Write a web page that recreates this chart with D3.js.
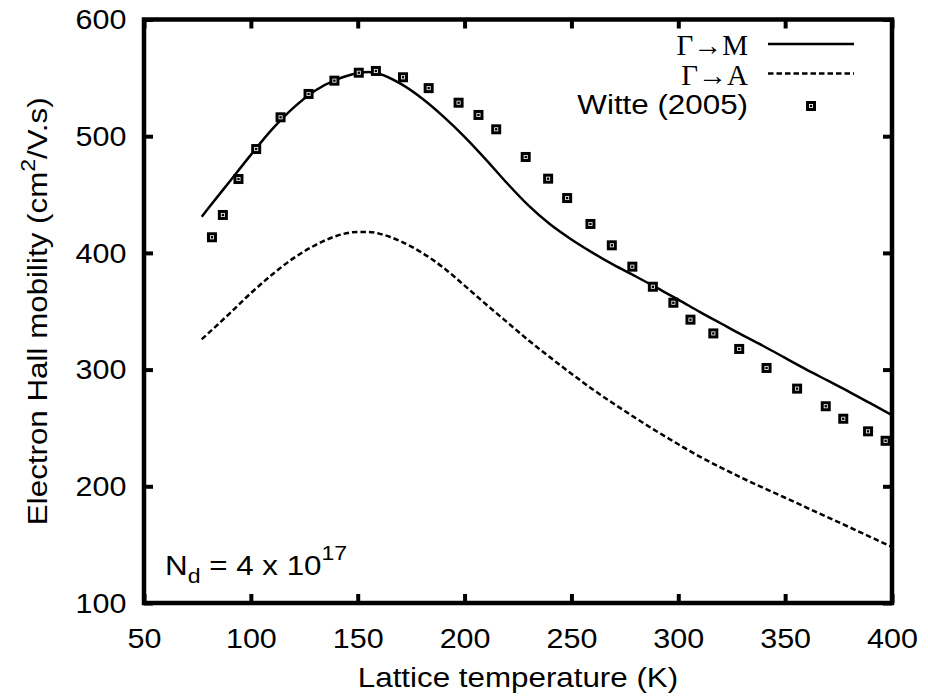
<!DOCTYPE html>
<html>
<head>
<meta charset="utf-8">
<script src="https://cdn.jsdelivr.net/npm/d3@7"></script>
<style>
  body { margin: 0; background: #fff; }
  svg { display: block; }
  .sans { font-family: "Liberation Sans", Arial, Helvetica, sans-serif; }
  .serif { font-family: "Liberation Serif", "Times New Roman", serif; }
</style>
</head>
<body>
<svg id="chart" width="928" height="698"></svg>
<script>
// ---- data ----
const xTicks = [50, 100, 150, 200, 250, 300, 350, 400];
const yTicks = [100, 200, 300, 400, 500, 600];

const temps = [77, 80, 90, 100, 110, 120, 130, 140, 150, 155, 160, 170, 180, 190, 200, 210, 220, 230, 240, 250, 260, 270, 280, 290, 300, 310, 320, 330, 340, 350, 360, 370, 380, 390, 400];
const gammaM = [431, 438, 461, 484, 506, 524.5, 539, 548.5, 554, 555, 553.5, 545, 532.5, 517, 499.5, 480, 459.5, 440.5, 424.5, 411.5, 400, 389.5, 380, 370, 360, 349.5, 339.5, 329.5, 320, 310, 300, 290.5, 281, 271, 261];
const gammaA = [326, 331, 348, 365.5, 381.5, 395.5, 406.5, 414.5, 418, 418, 416.5, 410, 400.2, 387.5, 372, 356, 340.5, 325, 310.5, 296.5, 283, 270.5, 258.5, 247, 236, 225.5, 216, 207, 198.5, 190.2, 181.8, 173.4, 165, 156.5, 148];

const witteT = [81.8, 86.9, 94.2, 102.5, 113.9, 127.0, 139.1, 150.5, 158.5, 171.2, 183.2, 197.2, 206.5, 214.8, 228.6, 239.1, 248.0, 258.9, 268.9, 278.5, 288.1, 297.7, 305.7, 316.4, 328.5, 341.3, 355.6, 369.0, 377.2, 388.8, 397.0];
const witteMu = [413.4, 432.5, 463.3, 489, 516.2, 536.2, 547.6, 554.4, 555.9, 550.5, 541.2, 528.7, 518.2, 505.9, 482.2, 463.6, 447.0, 424.8, 406.5, 388.2, 371.0, 357.3, 342.8, 331.0, 317.7, 301.4, 283.7, 268.6, 257.9, 247.1, 239.0];

const legendLabels = ["\u0393\u2192M", "\u0393\u2192A", "Witte (2005)"];

// ---- layout ----
const svg = d3.select("#chart");
const L = 144, R = 892, T = 19.5, B = 603;
const x = d3.scaleLinear().domain([50, 400]).range([L, R]);
const y = d3.scaleLinear().domain([100, 600]).range([B, T]);

const tickLen = 9;
const fs = 28.5;
const SX = 1.1;     // horizontal stretch of text (reference font renders wider)
const SXT = 1.07;

function stext(g, px, py, cls, size, anchor, sx) {
  return g.append("text").attr("class", cls).attr("font-size", size).attr("text-anchor", anchor)
    .attr("transform", `translate(${px},${py}) scale(${sx},1)`);
}

// axes
const gx = svg.append("g").attr("transform", `translate(0,${B})`)
  .call(d3.axisBottom(x).tickValues(xTicks).tickSize(-tickLen).tickPadding(25).tickSizeOuter(0));
const gxt = svg.append("g").attr("transform", `translate(0,${T})`)
  .call(d3.axisTop(x).tickValues(xTicks).tickSize(-tickLen).tickFormat("").tickSizeOuter(0));
const gy = svg.append("g").attr("transform", `translate(${L},0)`)
  .call(d3.axisLeft(y).tickValues(yTicks).tickSize(-tickLen).tickPadding(16.5).tickSizeOuter(0));
const gyr = svg.append("g").attr("transform", `translate(${R},0)`)
  .call(d3.axisRight(y).tickValues(yTicks).tickSize(-tickLen).tickFormat("").tickSizeOuter(0));

[gx, gxt, gy, gyr].forEach(g => {
  g.select(".domain").remove();
  g.selectAll(".tick line").attr("stroke", "#000").attr("stroke-width", 4);
  g.selectAll(".tick text").attr("class", "sans").attr("font-size", fs).attr("fill", "#000")
    .attr("transform", `scale(${SXT},1)`);
});

// frame
svg.append("rect").attr("x", L).attr("y", T).attr("width", R - L).attr("height", B - T)
  .attr("fill", "none").attr("stroke", "#000").attr("stroke-width", 4.5);

svg.append("clipPath").attr("id", "clip").append("rect")
  .attr("x", L).attr("y", T).attr("width", R - L).attr("height", B - T);

const line = d3.line().curve(d3.curveMonotoneX);

const plot = svg.append("g").attr("clip-path", "url(#clip)");
plot.append("path")
  .attr("d", line(temps.map((t, i) => [x(t), y(gammaM[i])])))
  .attr("fill", "none").attr("stroke", "#000").attr("stroke-width", 2.5);
plot.append("path")
  .attr("d", line(temps.map((t, i) => [x(t), y(gammaA[i])])))
  .attr("fill", "none").attr("stroke", "#000").attr("stroke-width", 2.5)
  .attr("stroke-dasharray", "5.5,3");

function marker(g, cx, cy) {
  g.append("rect").attr("x", cx - 3.5).attr("y", cy - 3.5).attr("width", 7).attr("height", 7)
    .attr("fill", "#fff").attr("stroke", "#000").attr("stroke-width", 3);
  g.append("rect").attr("x", cx - 1.2).attr("y", cy - 1.2).attr("width", 2.4).attr("height", 2.4).attr("fill", "#000");
}
const mg = svg.append("g");
witteT.forEach((t, i) => marker(mg, x(t), y(witteMu[i])));

// legend
const lg = svg.append("g");
const legY = [55, 85, 114];
const legLineY = [44, 73.5, 106];
stext(lg, 748, legY[0], "serif", 29, "end", 1).text(legendLabels[0]);
stext(lg, 748, legY[1], "serif", 29, "end", 1).text(legendLabels[1]);
stext(lg, 748, legY[2], "sans", fs, "end", SX).text(legendLabels[2]);
lg.append("line").attr("x1", 768).attr("x2", 854).attr("y1", legLineY[0]).attr("y2", legLineY[0])
  .attr("stroke", "#000").attr("stroke-width", 2.5);
lg.append("line").attr("x1", 768).attr("x2", 854).attr("y1", legLineY[1]).attr("y2", legLineY[1])
  .attr("stroke", "#000").attr("stroke-width", 2.5).attr("stroke-dasharray", "5.5,3");
marker(lg, 811, legLineY[2]);

// annotation N_d
const nd = stext(svg, 165, 575, "sans", fs, "start", SX);
nd.append("tspan").text("N");
nd.append("tspan").attr("font-size", 21).attr("dy", 8).text("d");
nd.append("tspan").attr("dy", -8).text(" = 4 x 10");
nd.append("tspan").attr("font-size", 21).attr("dy", -15).text("17");

// axis titles
stext(svg, (L + R) / 2, 687, "sans", fs, "middle", SX).text("Lattice temperature (K)");
const yt = svg.append("text").attr("class", "sans")
  .attr("transform", `translate(47,${(T + B) / 2}) rotate(-90) scale(${SX},1)`)
  .attr("text-anchor", "middle").attr("font-size", fs);
yt.append("tspan").text("Electron Hall mobility (cm");
yt.append("tspan").attr("font-size", 21).attr("dy", -12).text("2");
yt.append("tspan").attr("dy", 12).text("/V.s)");
</script>
</body>
</html>
